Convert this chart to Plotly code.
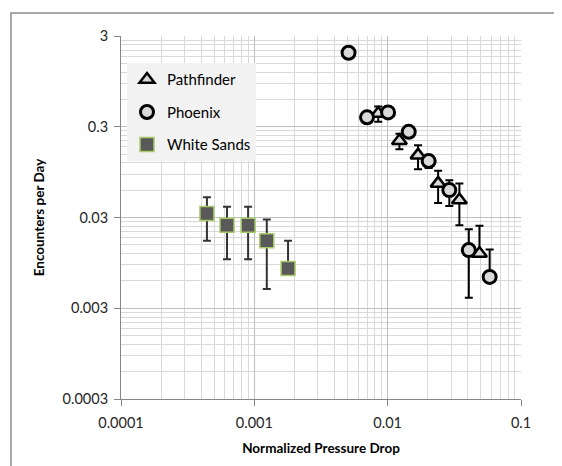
import plotly.graph_objects as go

# ---------------- data ----------------
pf_name = "Pathfinder"
pf_x = [0.0085, 0.01225, 0.0169, 0.0239, 0.0345, 0.0488]
pf_y = [0.42, 0.210, 0.146, 0.0713, 0.0467, 0.01205]
pf_err_plus = [0.08, 0.041, 0.042, 0.027, 0.0246, 0.0123]
pf_err_minus = [0.08, 0.041, 0.044, 0.028, 0.022, 0.0]

ph_name = "Phoenix"
ph_x = [0.00509, 0.0070, 0.01007, 0.01439, 0.0203, 0.0290, 0.0406, 0.0582]
ph_y = [1.96, 0.381, 0.432, 0.264, 0.1256, 0.0601, 0.01312, 0.00665]
ph_err_plus = [0.0, 0.0, 0.0, 0.0, 0.02, 0.017, 0.0092, 0.0067]
ph_err_minus = [0.0, 0.0, 0.0, 0.0, 0.02, 0.020, 0.0092, 0.0]

ws_name = "White Sands"
ws_x = [0.000441, 0.000624, 0.000898, 0.00124, 0.00179]
ws_y = [0.0333, 0.0247, 0.0247, 0.0166, 0.00824]
ws_err_plus = [0.0167, 0.0147, 0.0147, 0.012, 0.0084]
ws_err_minus = [0.0167, 0.0143, 0.0143, 0.0117, 0.0]

x_ticks = [0.0001, 0.001, 0.01, 0.1]
x_ticklabels = ["0.0001", "0.001", "0.01", "0.1"]
y_ticks = [0.0003, 0.003, 0.03, 0.3, 3]
y_ticklabels = ["0.0003", "0.003", "0.03", "0.3", "3"]

x_title = "Normalized Pressure Drop"
y_title = "Encounters per Day"

# minor grid positions (Excel log axis: multiples of the decade base)
x_minor = [k * 10 ** e for e in range(-4, -1) for k in range(2, 10)]
y_minor = [k * 3 * 10 ** e for e in range(-4, 0) for k in range(2, 10)]

FONT = "Lato, 'Open Sans', sans-serif"

fig = go.Figure()

fig.add_trace(go.Scatter(
    x=pf_x, y=pf_y, mode="markers", name=pf_name, legendgroup="a",
    marker=dict(symbol="triangle-up", size=13, color="#D9D9D9",
                line=dict(color="black", width=2.5)),
    error_y=dict(type="data", symmetric=False, array=pf_err_plus,
                 arrayminus=pf_err_minus, color="black", thickness=2, width=4),
))
fig.add_trace(go.Scatter(
    x=ph_x, y=ph_y, mode="markers", name=ph_name, legendgroup="b",
    marker=dict(symbol="circle", size=13, color="#D9D9D9",
                line=dict(color="black", width=3)),
    error_y=dict(type="data", symmetric=False, array=ph_err_plus,
                 arrayminus=ph_err_minus, color="black", thickness=2, width=4),
))
fig.add_trace(go.Scatter(
    x=ws_x, y=ws_y, mode="markers", name=ws_name, legendgroup="c",
    marker=dict(symbol="square", size=14, color="#595959",
                line=dict(color="#A9CC6A", width=1.5)),
    error_y=dict(type="data", symmetric=False, array=ws_err_plus,
                 arrayminus=ws_err_minus, color="#333333", thickness=2, width=4),
))

axis_common = dict(
    type="log", showline=True, linecolor="#868686", linewidth=1,
    ticks="outside", ticklen=6, tickcolor="#868686",
    showgrid=True, gridcolor="#BFBFBF", gridwidth=1,
    zeroline=False, mirror=False,
    tickfont=dict(family=FONT, size=14.5, color="#262626"),
)

fig.update_layout(
    width=554, height=458,
    margin=dict(l=113, r=41, t=28, b=67),
    paper_bgcolor="white", plot_bgcolor="white",
    font=dict(family=FONT, color="black"),
    xaxis=dict(axis_common, range=[-4, -1], tickmode="array",
               tickvals=x_ticks, ticktext=x_ticklabels, ticklabelstandoff=5,
               minor=dict(tickmode="array", tickvals=x_minor, showgrid=True,
                          gridcolor="#D9D9D9", ticks=""),
               title=dict(text="<b>" + x_title + "</b>", standoff=13,
                          font=dict(family=FONT, size=13.5, color="black"))),
    yaxis=dict(axis_common, range=[-3.5229, 0.4771], tickmode="array",
               tickvals=y_ticks, ticktext=y_ticklabels, ticklabelstandoff=3,
               minor=dict(tickmode="array", tickvals=y_minor, showgrid=True,
                          gridcolor="#D9D9D9", ticks=""),
               title=dict(text="<b>" + y_title + "</b>", standoff=14,
                          font=dict(family=FONT, size=13.5, color="black"))),
    showlegend=True,
    legend=dict(x=0.015, y=0.925, xanchor="left", yanchor="top",
                bgcolor="#F2F2F2", borderwidth=0, tracegroupgap=10,
                font=dict(family=FONT, size=15, color="black"),
                itemsizing="trace"),
    shapes=[dict(type="rect", xref="paper", yref="paper",
                 x0=-0.275, x1=1.5, y0=-0.5, y1=1.0634,
                 line=dict(color="#8C8C8C", width=1.5), layer="below")],
)

fig.write_html("out.html")
